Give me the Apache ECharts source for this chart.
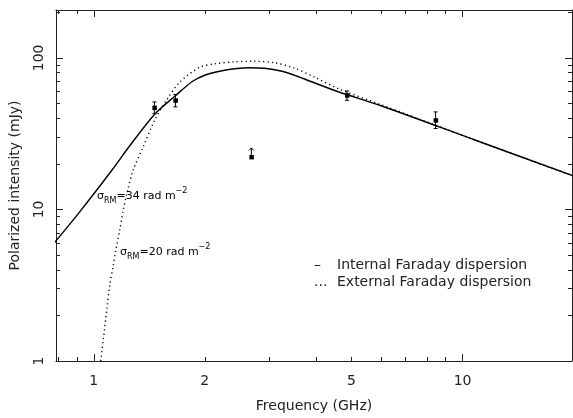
<!DOCTYPE html>
<html>
<head>
<meta charset="utf-8">
<script src="https://cdn.jsdelivr.net/npm/echarts@6/dist/echarts.min.js"></script>
<style>
  html, body { margin: 0; padding: 0; background: #fff; }
  #chart { width: 573px; height: 418px; }
</style>
</head>
<body>
<div id="chart"></div>
<script>
// internal Faraday dispersion model (solid)
const intFreq = [0.78, 0.916, 1.121, 1.252, 1.463, 1.658, 1.854, 2.00, 2.195, 2.411, 2.647, 2.907, 3.192, 3.44, 3.68, 4.642, 5.96, 10.85, 20];
const intFlux = [5.98, 9.64, 18.2, 26.3, 42.5, 55.8, 70.1, 76.8, 81.6, 84.8, 86.1, 85.4, 82.2, 78.0, 73.4, 59.3, 48.7, 28.6, 16.6];

// external Faraday dispersion model (dotted)
const extFreq = [1.0447, 1.061, 1.0845, 1.105, 1.128, 1.147, 1.176, 1.202, 1.236, 1.279, 1.36, 1.463, 1.574, 1.71, 1.938, 2.128, 2.411, 2.732, 3.094, 3.505, 3.971, 4.642, 5.96, 10.85, 20];
const extFlux = [1.0, 1.375, 2.17, 3.17, 4.18, 5.39, 7.30, 9.89, 13.4, 18.2, 25.7, 38.8, 52.5, 69.1, 86.7, 91.4, 94.2, 95.0, 92.9, 85.4, 74.5, 62.1, 49.5, 28.6, 16.6];

// measurements with error bars
const obsFreq = [1.46, 1.665, 4.86, 8.45];
const obsFlux = [47.0, 52.5, 56.7, 38.8];
const obsLow = [42.9, 47.5, 52.5, 34.2];
const obsHigh = [51.2, 57.3, 60.5, 44.0];

// lower limit
const limFreq = [2.675];
const limFlux = [22.2];

// axis ticks
const xMajor = [1, 10];
const xMinor = [0.8, 0.9, 2, 3, 4, 5, 6, 7, 8, 9];
const xLabels = [1, 2, 5, 10];
const yMajor = [1, 10, 100];
const yMinor = [2, 3, 4, 5, 6, 7, 8, 9, 20, 30, 40, 50, 60, 70, 80, 90, 200];
const yLabels = [1, 10, 100];

const FONT = 'DejaVu Sans';
const INK = '#222';

let myChart = echarts.init(document.getElementById('chart'));

function mkX(pos, ticks, len, withLine, labels, name) {
    return {
        type: 'log', position: pos, min: 0.79, max: 19.8,
        axisLine: { show: withLine, onZero: false, lineStyle: { color: INK, width: 1 } },
        axisTick: { show: true, inside: true, length: len, customValues: ticks, lineStyle: { color: INK, width: 1 } },
        axisLabel: labels ? {
            show: true, customValues: labels, margin: 13, color: INK, fontFamily: FONT, fontSize: 14,
            formatter: v => String(Math.round(v))
        } : { show: false },
        splitLine: { show: false },
        minorTick: { show: false },
        name: name || '', nameLocation: 'middle', nameGap: 38,
        nameTextStyle: { color: INK, fontFamily: FONT, fontSize: 14 }
    };
}

function mkY(pos, ticks, len, withLine, labels, name) {
    return {
        type: 'log', position: pos, min: 1, max: 207,
        axisLine: { show: withLine, onZero: false, lineStyle: { color: INK, width: 1 } },
        axisTick: { show: true, inside: true, length: len, customValues: ticks, lineStyle: { color: INK, width: 1 } },
        axisLabel: labels ? {
            show: true, customValues: labels, margin: 10, rotate: 90, color: INK, fontFamily: FONT, fontSize: 14,
            formatter: v => String(Math.round(v))
        } : { show: false },
        splitLine: { show: false },
        minorTick: { show: false },
        name: name || '', nameLocation: 'middle', nameGap: 34, nameRotate: 90,
        nameTextStyle: { color: INK, fontFamily: FONT, fontSize: 14 }
    };
}

function errorBars(params, api) {
    const x = api.value(0);
    const p = api.coord([x, api.value(1)]);
    const lo = api.coord([x, api.value(2)]);
    const hi = api.coord([x, api.value(3)]);
    const st = { stroke: '#000', lineWidth: 1 };
    return {
        type: 'group',
        children: [
            { type: 'line', shape: { x1: lo[0], y1: lo[1], x2: hi[0], y2: hi[1] }, style: st },
            { type: 'line', shape: { x1: lo[0] - 2, y1: lo[1], x2: lo[0] + 2, y2: lo[1] }, style: st },
            { type: 'line', shape: { x1: hi[0] - 2, y1: hi[1], x2: hi[0] + 2, y2: hi[1] }, style: st },
            { type: 'rect', shape: { x: p[0] - 2, y: p[1] - 2, width: 4.5, height: 4.5 }, style: { fill: '#000' } }
        ]
    };
}

function limitMark(params, api) {
    const p = api.coord([api.value(0), api.value(1)]);
    const st = { stroke: '#000', lineWidth: 1 };
    return {
        type: 'group',
        children: [
            { type: 'line', shape: { x1: p[0], y1: p[1] - 2, x2: p[0], y2: p[1] - 9 }, style: st },
            { type: 'polyline', shape: { points: [[p[0] - 2.5, p[1] - 6.5], [p[0], p[1] - 9], [p[0] + 2.5, p[1] - 6.5]] }, style: { stroke: '#000', lineWidth: 1, fill: null } },
            { type: 'rect', shape: { x: p[0] - 2, y: p[1] - 2, width: 4.5, height: 4.5 }, style: { fill: '#000' } }
        ]
    };
}

const rich = {
    n: { fontFamily: FONT, fontSize: 11, color: INK, lineHeight: 18, verticalAlign: 'middle' },
    sub: { fontFamily: FONT, fontSize: 8, color: INK, verticalAlign: 'bottom', lineHeight: 18 },
    sup: { fontFamily: FONT, fontSize: 8, color: INK, verticalAlign: 'top', lineHeight: 18 }
};

let option = {
    animation: false,
    backgroundColor: '#fff',
    grid: { left: 56, right: 1, top: 10, bottom: 57, containLabel: false },
    xAxis: [
        mkX('bottom', xMajor, 7, true, xLabels, 'Frequency (GHz)'),
        mkX('bottom', xMinor, 4, false, null),
        mkX('top', xMajor, 7, true, null),
        mkX('top', xMinor, 4, false, null)
    ],
    yAxis: [
        mkY('left', yMajor, 7, true, yLabels, 'Polarized intensity (mJy)'),
        mkY('left', yMinor, 4, false, null),
        mkY('right', yMajor, 7, true, null),
        mkY('right', yMinor, 4, false, null)
    ],
    series: [
        {
            name: 'Internal Faraday dispersion', type: 'line',
            data: intFreq.map((f, i) => [f, intFlux[i]]),
            showSymbol: false, smooth: 0.3,
            lineStyle: { color: '#000', width: 1.4 }
        },
        {
            name: 'External Faraday dispersion', type: 'line',
            data: extFreq.map((f, i) => [f, extFlux[i]]),
            showSymbol: false, smooth: 0.3,
            lineStyle: { color: '#000', width: 1.4, type: [1.2, 3.2] }
        },
        {
            type: 'custom', renderItem: errorBars,
            data: obsFreq.map((f, i) => [f, obsFlux[i], obsLow[i], obsHigh[i]])
        },
        {
            type: 'custom', renderItem: limitMark,
            data: limFreq.map((f, i) => [f, limFlux[i]])
        }
    ],
    graphic: [
        { type: 'text', left: 97, top: 187, style: { text: '{n|σ}{sub|RM}{n|=34 rad m}{sup|−2}', rich: rich } },
        { type: 'text', left: 120, top: 243, style: { text: '{n|σ}{sub|RM}{n|=20 rad m}{sup|−2}', rich: rich } },
        { type: 'text', left: 314, top: 258, style: { text: '–', font: '14px "DejaVu Sans"', fill: INK } },
        { type: 'text', left: 337, top: 258, style: { text: 'Internal Faraday dispersion', font: '14px "DejaVu Sans"', fill: INK } },
        { type: 'text', left: 314, top: 275, style: { text: '...', font: '14px "DejaVu Sans"', fill: INK } },
        { type: 'text', left: 337, top: 275, style: { text: 'External Faraday dispersion', font: '14px "DejaVu Sans"', fill: INK } }
    ]
};

myChart.setOption(option);
</script>
</body>
</html>
